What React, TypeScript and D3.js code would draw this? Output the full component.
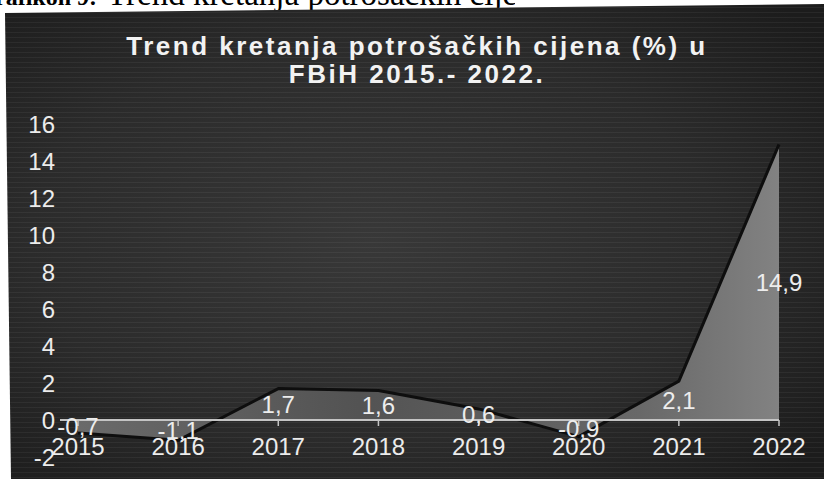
import React from 'react';
import * as d3 from 'd3';

const years = ['2015', '2016', '2017', '2018', '2019', '2020', '2021', '2022'];
const values = [-0.7, -1.1, 1.7, 1.6, 0.6, -0.9, 2.1, 14.9];
const valueLabels = ['-0,7', '-1,1', '1,7', '1,6', '0,6', '-0,9', '2,1', '14,9'];
const yTicks = [-2, 0, 2, 4, 6, 8, 10, 12, 14, 16];
const titleLines = ['Trend kretanja potrošačkih cijena (%) u', 'FBiH 2015.- 2022.'];
const captionBold = 'Grafikon 9:';
const captionText = 'Trend kretanja potrošačkih cijena';

const W = 824;
const H = 479;

export default function App() {
  const x = d3.scalePoint<string>().domain(years).range([78, 779]);
  const y = d3.scaleLinear().domain([-2, 16]).range([457, 124]);
  const data = years.map((yr, i) => ({ yr, v: values[i], label: valueLabels[i] }));

  const area = d3
    .area<{ yr: string; v: number }>()
    .x((d) => x(d.yr) as number)
    .y0(y(0))
    .y1((d) => y(d.v));
  const line = d3
    .line<{ yr: string; v: number }>()
    .x((d) => x(d.yr) as number)
    .y((d) => y(d.v));

  const font = 'Arial, "Liberation Sans", Helvetica, sans-serif';
  const serif = '"Liberation Serif", "Times New Roman", serif';
  const x0 = x(years[0]) as number;
  const x1 = x(years[years.length - 1]) as number;

  return (
    <svg
      width={W}
      height={H}
      viewBox={`0 0 ${W} ${H}`}
      style={{ position: 'absolute', left: 0, top: 0, display: 'block', background: '#fff' }}
    >
      <defs>
        <radialGradient id="bg" cx="45%" cy="50%" r="70%">
          <stop offset="0%" stopColor="#383838" />
          <stop offset="60%" stopColor="#2b2b2b" />
          <stop offset="100%" stopColor="#1c1c1c" />
        </radialGradient>
        <pattern id="streaks" width="8" height="5" patternUnits="userSpaceOnUse">
          <rect width="8" height="1" y="2" fill="#ffffff" opacity="0.05" />
        </pattern>
        <linearGradient id="areaFill" x1="0" x2="1" y1="0" y2="0">
          <stop offset="0%" stopColor="#6a6a6a" />
          <stop offset="40%" stopColor="#535353" />
          <stop offset="80%" stopColor="#686868" />
          <stop offset="100%" stopColor="#828282" />
        </linearGradient>
        <clipPath id="capClip">
          <rect x="0" y="0" width="515" height="20" />
        </clipPath>
      </defs>

      <g clipPath="url(#capClip)">
        <text x={97} y={5} textAnchor="end" fontFamily={serif} fontSize={24} fontWeight="bold" fill="#000">
          {captionBold}
        </text>
        <text x={107} y={5} fontFamily={serif} fontSize={33} fill="#000">
          {captionText}
        </text>
      </g>

      <polygon points={`5,13 824,4 824,479 11,479`} fill="url(#bg)" />
      <polygon points={`5,13 824,4 824,479 11,479`} fill="url(#streaks)" />

      {titleLines.map((t, i) => (
        <text
          key={i}
          x={417}
          y={55 + i * 28}
          textAnchor="middle"
          fontFamily={font}
          fontWeight="bold"
          fontSize={26}
          letterSpacing={2.5}
          fill="#f2f2f2"
        >
          {t}
        </text>
      ))}

      {yTicks.map((t) => (
        <text
          key={t}
          x={55}
          y={y(t)}
          dy="0.36em"
          textAnchor="end"
          fontFamily={font}
          fontSize={24}
          fill="#ececec"
        >
          {t}
        </text>
      ))}

      <path d={area(data) || ''} fill="url(#areaFill)" />
      <path d={line(data) || ''} fill="none" stroke="#0e0e0e" strokeWidth={3} strokeLinejoin="round" />

      <line x1={x0 - 18} x2={x1} y1={y(0)} y2={y(0)} stroke="#c4c4c4" strokeWidth={2} />
      {years.map((yr) => (
        <line
          key={yr}
          x1={x(yr)}
          x2={x(yr)}
          y1={y(0)}
          y2={y(0) + 6}
          stroke="#c4c4c4"
          strokeWidth={1.5}
        />
      ))}

      {years.map((yr) => (
        <text
          key={yr}
          x={x(yr)}
          y={455}
          textAnchor="middle"
          fontFamily={font}
          fontSize={24}
          fill="#ececec"
        >
          {yr}
        </text>
      ))}

      {data.map((d) => (
        <text
          key={d.yr}
          x={x(d.yr)}
          y={y(d.v / 2)}
          dy="0.36em"
          textAnchor="middle"
          fontFamily={font}
          fontSize={24}
          fill="#ededed"
        >
          {d.label}
        </text>
      ))}
    </svg>
  );
}
